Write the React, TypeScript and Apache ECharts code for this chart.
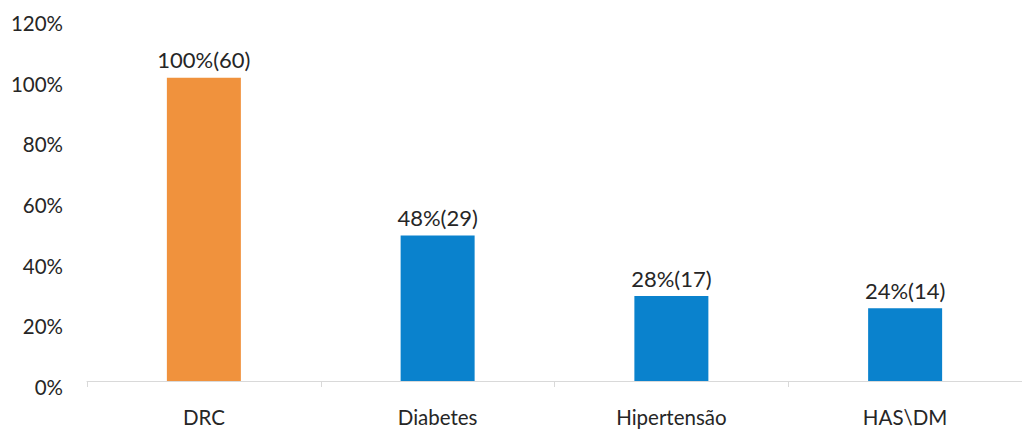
import React, { useEffect, useRef } from "react";
import * as echarts from "echarts";

const categories = ["DRC", "Diabetes", "Hipertensão", "HAS\\DM"];
const percentValues = [100, 48, 28, 24];
const counts = [60, 29, 17, 14];
const barColors = ["#F0923D", "#0A82CD", "#0A82CD", "#0A82CD"];
const yTicks = [0, 20, 40, 60, 80, 100, 120];

export default function App() {
  const ref = useRef<HTMLDivElement>(null);
  useEffect(() => {
    if (!ref.current) return;
    const chart = echarts.init(ref.current, null, { renderer: "svg" });
    const font = "Lato";
    chart.setOption({
      animation: false,
      grid: { left: 87, top: 17, width: 938, bottom: 48, containLabel: false },
      xAxis: {
        type: "category",
        data: categories,
        boundaryGap: true,
        axisLine: { show: true, lineStyle: { color: "#D9D9D9", width: 1 } },
        axisTick: { show: true, alignWithLabel: false, length: 6, lineStyle: { color: "#D9D9D9" } },
        axisLabel: { color: "#262626", fontSize: 20.5, fontFamily: font, margin: 25, interval: 0 },
      },
      yAxis: {
        type: "value",
        min: yTicks[0],
        max: yTicks[yTicks.length - 1],
        interval: 20,
        axisLine: { show: false },
        axisTick: { show: false },
        splitLine: { show: false },
        axisLabel: {
          margin: 24,
          formatter: (v: number) => "{a|" + v + "%}",
          rich: {
            a: {
              color: "#262626",
              fontSize: 20.5,
              fontFamily: font,
              padding: [12, 0, 0, 0],
            },
          },
        },
      },
      series: [
        {
          type: "bar",
          barWidth: 74,
          data: percentValues.map((v, i) => ({ value: v, itemStyle: { color: barColors[i] } })),
          label: {
            show: true,
            position: "top",
            distance: 7,
            color: "#262626",
            fontSize: 22,
            fontFamily: font,
            formatter: (p: any) => percentValues[p.dataIndex] + "%(" + counts[p.dataIndex] + ")",
          },
        },
      ],
    });
    return () => chart.dispose();
  }, []);
  return <div ref={ref} style={{ width: 1022, height: 429, position: "absolute", left: 0, top: 0 }} />;
}
